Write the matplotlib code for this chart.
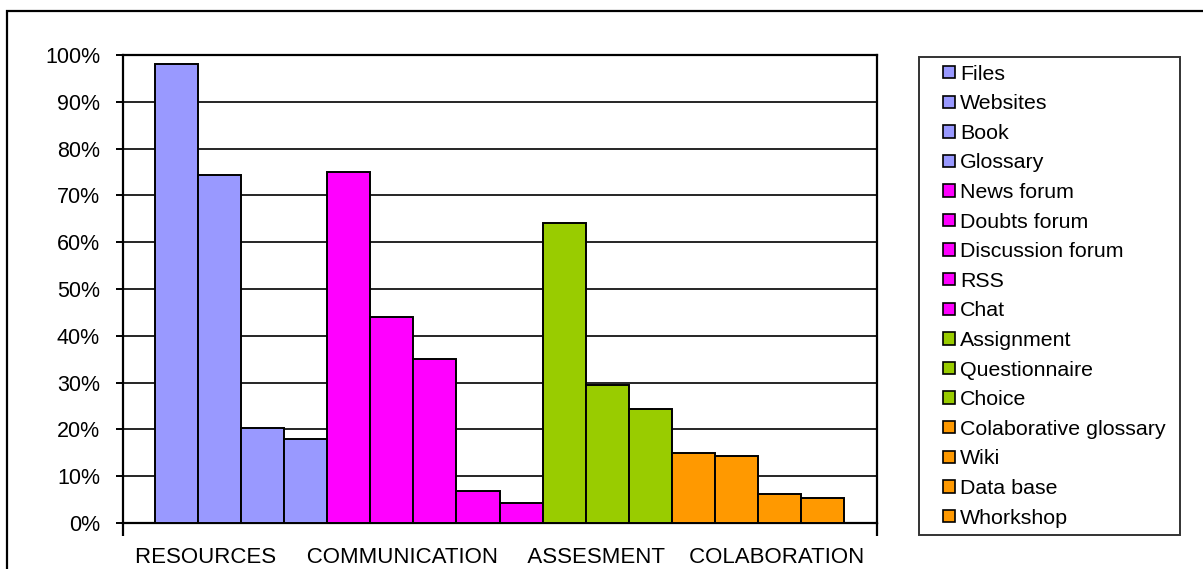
import matplotlib
matplotlib.use("Agg")
import matplotlib.pyplot as plt
from matplotlib.patches import Rectangle, Patch
from matplotlib.ticker import FixedLocator
from matplotlib.legend_handler import HandlerPatch

plt.rcParams['font.family'] = ['Liberation Sans', 'DejaVu Sans']

series = ["Files", "Websites", "Book", "Glossary",
          "News forum", "Doubts forum", "Discussion forum", "RSS", "Chat",
          "Assignment", "Questionnaire", "Choice",
          "Colaborative glossary", "Wiki", "Data base", "Whorkshop"]
values = [98.0, 74.4, 20.2, 18.0,
          75.1, 44.1, 35.0, 6.8, 4.3,
          64.1, 29.4, 24.3,
          15.0, 14.3, 6.2, 5.4]
groups = ["RESOURCES", "RESOURCES", "RESOURCES", "RESOURCES",
          "COMMUNICATION", "COMMUNICATION", "COMMUNICATION", "COMMUNICATION", "COMMUNICATION",
          "ASSESMENT", "ASSESMENT", "ASSESMENT",
          "COLABORATION", "COLABORATION", "COLABORATION", "COLABORATION"]
categories = ["RESOURCES", "COMMUNICATION", "ASSESMENT", "COLABORATION"]
group_colors = {"RESOURCES": "#9999FF", "COMMUNICATION": "#FF00FF",
                "ASSESMENT": "#99CC00", "COLABORATION": "#FF9900"}
yticks = [0, 10, 20, 30, 40, 50, 60, 70, 80, 90, 100]

W, H = 1203, 569
fig = plt.figure(figsize=(W / 100, H / 100), dpi=100)
fig.patch.set_facecolor("white")

# outer chart frame
fig.patches.append(Rectangle((7 / W, -0.1), 1.2, 1 - 11 / H + 0.1,
                             transform=fig.transFigure, fill=False,
                             edgecolor="black", linewidth=1.6, zorder=0))

left, right, top, bottom = 123, 877, 55, 523
ax = fig.add_axes([left / W, 1 - bottom / H, (right - left) / W, (bottom - top) / H])

xs = list(range(len(values)))
colors = [group_colors[g] for g in groups]
ax.bar(xs, values, width=1.0, color=colors, edgecolor="black", linewidth=1.4, zorder=3)

ax.set_xlim(-1.243, 16.266)
ax.set_ylim(0, 100)
ax.set_yticks(yticks)
ax.set_yticklabels([f"{t}%" for t in yticks], fontsize=15.5)
ax.yaxis.grid(True, color="black", linewidth=1.2, zorder=1)
ax.set_axisbelow(True)
ax.tick_params(axis="y", length=5, width=1.4, pad=11.5, direction="out")

center = (ax.get_xlim()[0] + ax.get_xlim()[1]) / 2
ax.set_xticks([center])
ax.set_xticklabels(["     ".join(categories[:3]) + "    " + categories[3]], fontsize=16)
ax.tick_params(axis="x", length=0, pad=17.5)
ax.xaxis.set_minor_locator(FixedLocator(list(ax.get_xlim())))
ax.tick_params(axis="x", which="minor", length=9, width=1.6, direction="out")

for s in ax.spines.values():
    s.set_linewidth(1.6)
    s.set_color("black")


def square_at_right(legend, orig_handle, xdescent, ydescent, width, height, fontsize):
    s = 0.58 * fontsize
    return Rectangle((-xdescent + width - s - 1, -ydescent + (height - s) / 2), s, s)


handles = [Patch(facecolor=c, edgecolor="black", linewidth=1.2) for c in colors]
leg_x0, leg_y1, leg_x1 = 919, 57, 1180
leg = fig.legend(handles, series, loc="upper left",
                 bbox_to_anchor=(leg_x0 / W, 1 - leg_y1 / H, (leg_x1 - leg_x0) / W, 0.0),
                 mode="expand", borderaxespad=0,
                 fontsize=15.4, frameon=True, fancybox=False,
                 handlelength=1.4, handleheight=0.6, handletextpad=0.15,
                 labelspacing=0.495, borderpad=0.36,
                 handler_map={Patch: HandlerPatch(patch_func=square_at_right)})
leg.get_frame().set_edgecolor("black")
leg.get_frame().set_linewidth(1.4)

fig.savefig("out.png", dpi=100, facecolor="white")
